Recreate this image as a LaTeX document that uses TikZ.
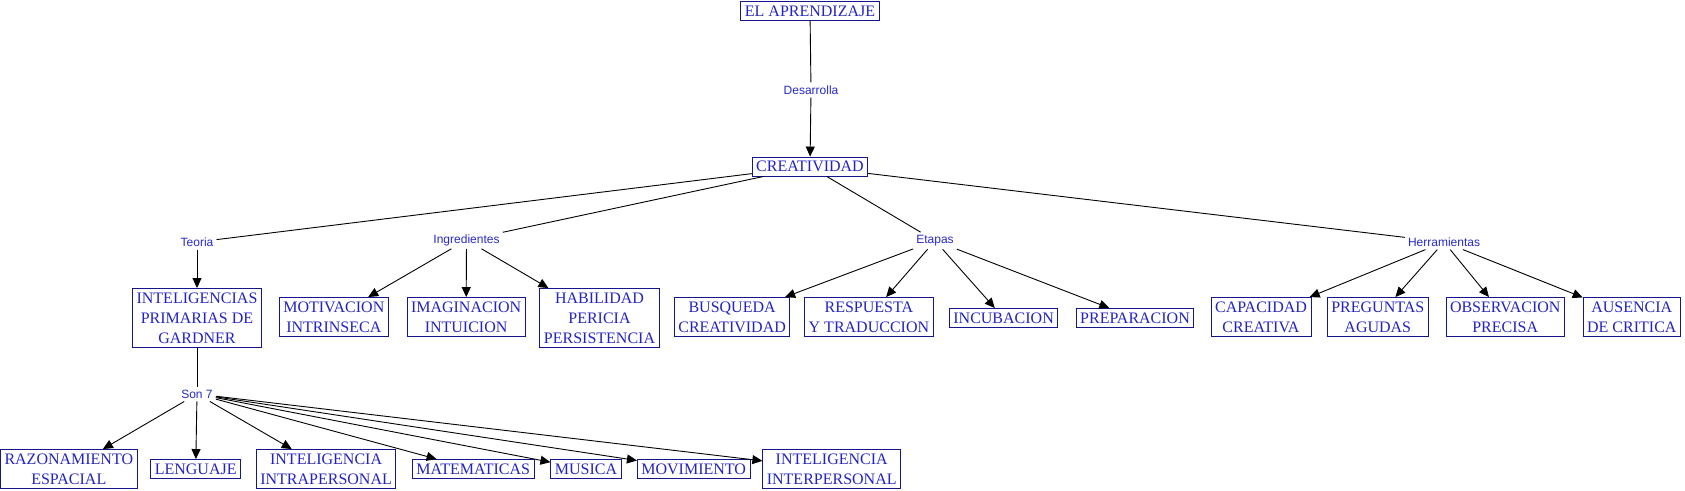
\documentclass[tikz,border=0pt]{standalone}
\usepackage{fontspec}
\setmainfont{Liberation Serif}
\newfontfamily\labfont{Liberation Sans}
\usetikzlibrary{arrows.meta}
\definecolor{boxline}{RGB}{22,22,140}
\definecolor{boxtext}{RGB}{35,35,195}
\definecolor{labtext}{RGB}{40,40,205}
\tikzset{
  bx/.style={draw=boxline, line width=0.9pt, text=boxtext, inner xsep=4pt, inner ysep=0pt,
     align=center, font=\fontsize{16}{20}\selectfont, minimum height=19pt},
  two/.style={minimum height=39pt},
  three/.style={minimum height=59pt},
  lab/.style={text=labtext, font=\labfont\fontsize{12}{14}\selectfont, inner sep=3pt},
  ln/.style={draw=black, line width=0.9pt},
  arr/.style={ln, -{Triangle[length=10pt,width=9pt]}}
}
\begin{document}
\begin{tikzpicture}[x=1pt,y=-1pt]
\useasboundingbox (0,0) rectangle (1685,490);
% top
\node[bx] (apr) at (810,11) {EL APRENDIZAJE};
\node[lab] (des) at (811,90) {Desarrolla};
\node[bx] (cre) at (810,166.5) {CREATIVIDAD};
% link labels
\node[lab] (teo) at (197,242) {Teoria};
\node[lab] (ing) at (466.5,240) {Ingredientes};
\node[lab] (eta) at (935,240.7) {Etapas};
\node[lab] (her) at (1444,242) {Herramientas};
% second level
\node[bx,three] (gar) at (197,318) {INTELIGENCIAS\\PRIMARIAS DE\\GARDNER};
\node[bx,two] (mot) at (333.8,317) {MOTIVACION\\INTRINSECA};
\node[bx,two] (ima) at (466.1,317) {IMAGINACION\\INTUICION};
\node[bx,three] (hab) at (599.5,318) {HABILIDAD\\PERICIA\\PERSISTENCIA};
\node[bx,two] (bus) at (732.1,317) {BUSQUEDA\\CREATIVIDAD};
\node[bx,two] (res) at (868.9,317) {RESPUESTA\\Y TRADUCCION};
\node[bx] (inc) at (1003.6,318) {INCUBACION};
\node[bx] (pre) at (1135,318) {PREPARACION};
\node[bx,two] (cap) at (1261,317) {CAPACIDAD\\CREATIVA};
\node[bx,two] (pgu) at (1377.8,317) {PREGUNTAS\\AGUDAS};
\node[bx,two] (obs) at (1505.2,317) {OBSERVACION\\PRECISA};
\node[bx,two] (aus) at (1631.8,317) {AUSENCIA\\DE CRITICA};
% third level
\node[lab] (son) at (197,394) {Son 7};
\node[bx,two] (raz) at (68.8,469) {RAZONAMIENTO\\ESPACIAL};
\node[bx] (len) at (195.7,469) {LENGUAJE};
\node[bx,two] (intra) at (326.1,469) {INTELIGENCIA\\INTRAPERSONAL};
\node[bx] (mat) at (473.2,469) {MATEMATICAS};
\node[bx] (mus) at (586,469) {MUSICA};
\node[bx] (mov) at (693.7,469) {MOVIMIENTO};
\node[bx,two] (inter) at (831.7,469) {INTELIGENCIA\\INTERPERSONAL};
% connectors
\draw[ln] (apr) -- (des);
\draw[arr] (des) -- (cre);
\draw[ln] (cre) -- (teo);
\draw[ln] (cre) -- (ing);
\draw[ln] (cre) -- (eta);
\draw[ln] (cre) -- (her);
\draw[arr] (teo) -- (gar);
\draw[arr] (ing) -- (mot);
\draw[arr] (ing) -- (ima);
\draw[arr] (ing) -- (hab);
\draw[arr] (eta) -- (bus);
\draw[arr] (eta) -- (res);
\draw[arr] (eta) -- (inc);
\draw[arr] (eta) -- (pre);
\draw[arr] (her) -- (cap);
\draw[arr] (her) -- (pgu);
\draw[arr] (her) -- (obs);
\draw[arr] (her) -- (aus);
\draw[ln] (gar) -- (son);
\draw[arr] (son) -- (raz);
\draw[arr] (son) -- (len);
\draw[arr] (son) -- (intra);
\draw[arr] (son) -- (mat);
\draw[arr] (son) -- (mus);
\draw[arr] (son) -- (mov);
\draw[arr] (son) -- (inter);
\end{tikzpicture}
\end{document}
